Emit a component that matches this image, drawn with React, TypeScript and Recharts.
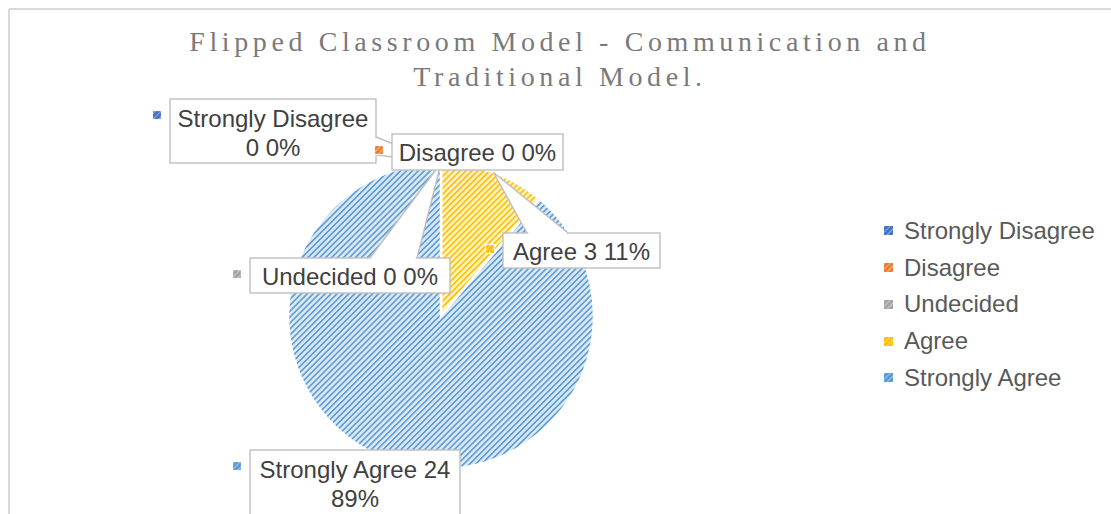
import React from 'react';
import { PieChart, Pie, Cell, Legend } from 'recharts';

const categories = ['Strongly Disagree', 'Disagree', 'Undecided', 'Agree', 'Strongly Agree'];
const counts = [0, 0, 0, 3, 24];
const baseColors = ['#4472C4', '#ED7D31', '#A5A5A5', '#FFC000', '#5B9BD5'];
const titleLines = ['Flipped Classroom Model - Communication and', 'Traditional Model.'];

const data = categories.map((name, i) => ({ name, value: counts[i] }));

const RAD = Math.PI / 180;
const LABEL_FONT = '"Liberation Sans", Arial, Helvetica, sans-serif';
const BORDER = '#bfbfbf';

type Callout = {
  x: number; y: number; w: number; h: number;
  breakAfter?: 'name' | 'value';
  base?: [number, number, number, number];
};

// layout of the data callouts (box position and wedge base)
const callouts: Callout[] = [
  { x: 170, y: 99, w: 206, h: 64, breakAfter: 'name', base: [376, 137, 376, 155] },
  { x: 392, y: 134, w: 171, h: 36 },
  { x: 250, y: 258, w: 200, h: 35, base: [370, 258, 417, 258] },
  { x: 503, y: 233, w: 157, h: 35, base: [527, 233, 568, 233] },
  { x: 250, y: 450, w: 210, h: 70, breakAfter: 'value' },
];

const apexOf = (p: any) => ({
  x: p.cx + p.outerRadius * Math.cos(-p.midAngle * RAD),
  y: p.cy + p.outerRadius * Math.sin(-p.midAngle * RAD),
});

const renderWedge = (p: any) => {
  const c = callouts[p.index];
  if (!c || !c.base) return <g key={`w-${p.index}`} />;
  const a = apexOf(p);
  const [x1, y1, x2, y2] = c.base;
  return (
    <polygon
      key={`w-${p.index}`}
      points={`${x1},${y1} ${a.x},${a.y} ${x2},${y2}`}
      fill="#ffffff"
      stroke={BORDER}
      strokeWidth={1.4}
      strokeLinejoin="miter"
    />
  );
};

const KeySquare = ({ x, y, i }: { x: number; y: number; i: number }) => (
  <g>
    <rect x={x} y={y} width={9} height={9} fill={baseColors[i]} stroke="#ffffff" strokeWidth={1.2} />
    <rect x={x} y={y} width={9} height={9} fill={`url(#key-${i})`} />
  </g>
);

const renderBox = (p: any) => {
  const c = callouts[p.index];
  if (!c) return <g key={`b-${p.index}`} />;
  const pct = `${Math.round((p.percent || 0) * 100)}%`;
  const name = p.name ?? categories[p.index];
  const value = p.value ?? counts[p.index];
  let lines: string[];
  if (c.breakAfter === 'name') lines = [name, `${value} ${pct}`];
  else if (c.breakAfter === 'value') lines = [`${name} ${value}`, pct];
  else lines = [`${name} ${value} ${pct}`];
  const cxText = c.x + c.w / 2;
  let gap: React.ReactNode = null;
  if (c.base) {
    const [x1, y1, x2, y2] = c.base;
    gap = (
      <line
        x1={x1 === x2 ? x1 : x1 + 1.2}
        y1={y1 === y2 ? y1 : y1 + 1.2}
        x2={x1 === x2 ? x2 : x2 - 1.2}
        y2={y1 === y2 ? y2 : y2 - 1.2}
        stroke="#ffffff"
        strokeWidth={2}
      />
    );
  }
  return (
    <g key={`b-${p.index}`}>
      <rect x={c.x} y={c.y} width={c.w} height={c.h} fill="#ffffff" stroke={BORDER} strokeWidth={1.4} />
      {gap}
      <KeySquare x={c.x - 17.5} y={c.y + 11.5} i={p.index} />
      {lines.map((t, i) => (
        <text
          key={i}
          x={cxText}
          y={c.y + (lines.length === 1 ? 27 : 28 + i * 29)}
          textAnchor="middle"
          fontFamily={LABEL_FONT}
          fontSize={24}
          fill="#404040"
        >
          {t}
        </text>
      ))}
    </g>
  );
};

const renderLegend = (props: any) => {
  const payload = (props.payload || []) as any[];
  const entries = categories
    .map((name) => payload.find((e: any) => e.value === name && e.color && e.color !== 'none'))
    .filter(Boolean);
  return (
    <div style={{ fontFamily: LABEL_FONT, fontSize: 24, color: '#595959' }}>
      {entries.map((e: any) => {
        const i = categories.indexOf(e.value);
        return (
          <div key={e.value} style={{ height: 36.7, display: 'flex', alignItems: 'center', whiteSpace: 'nowrap' }}>
            <svg width={9} height={9} style={{ marginRight: 11, flex: 'none' }}>
              <rect width={9} height={9} fill={baseColors[i]} />
              <rect width={9} height={9} fill={`url(#key-${i})`} />
            </svg>
            <span>{e.value}</span>
          </div>
        );
      })}
    </div>
  );
};

export default function App() {
  return (
    <div style={{ position: 'absolute', left: 0, top: 0, width: 1111, height: 514, overflow: 'hidden', background: '#ffffff' }}>
      <div style={{ position: 'absolute', left: 0, top: 0 }}>
        <PieChart width={1111} height={514} margin={{ top: 0, right: 0, bottom: 0, left: 0 }}>
          <defs>
            {baseColors.map((col, i) => (
              <pattern
                key={i}
                id={`pat-${i}`}
                width={4.2}
                height={4.2}
                patternUnits="userSpaceOnUse"
                patternTransform="rotate(45)"
              >
                <rect width={4.2} height={4.2} fill="#ffffff" />
                <rect width={4.2} height={4.2} fill={col} opacity={0.22} />
                <rect width={1.6} height={4.2} fill={col} />
              </pattern>
            ))}
            {baseColors.map((col, i) => (
              <pattern
                key={`k${i}`}
                id={`key-${i}`}
                width={4}
                height={4}
                patternUnits="userSpaceOnUse"
                patternTransform="rotate(45)"
              >
                <rect width={1} height={4} fill="#ffffff" opacity={0.4} />
              </pattern>
            ))}
          </defs>
          <Pie
            data={data}
            dataKey="value"
            nameKey="name"
            cx={441}
            cy={316}
            outerRadius={153}
            startAngle={90}
            endAngle={-270}
            stroke="#ffffff"
            strokeWidth={2.5}
            isAnimationActive={false}
            labelLine={false}
            label={renderWedge}
          >
            {data.map((_, i) => (
              <Cell key={i} fill={`url(#pat-${i})`} />
            ))}
          </Pie>
          <Pie
            data={data}
            dataKey="value"
            nameKey="name"
            cx={441}
            cy={316}
            outerRadius={153}
            startAngle={90}
            endAngle={-270}
            fill="none"
            stroke="none"
            legendType="none"
            isAnimationActive={false}
            labelLine={false}
            label={renderBox}
          >
            {data.map((_, i) => (
              <Cell key={i} fill="none" stroke="none" />
            ))}
          </Pie>
          <Legend
            layout="vertical"
            align="right"
            verticalAlign="middle"
            content={renderLegend}
            wrapperStyle={{ position: 'absolute', left: 884, top: 212.6, width: 227 }}
          />
        </PieChart>
      </div>
      <svg
        width={1111}
        height={514}
        style={{ position: 'absolute', left: 0, top: 0, pointerEvents: 'none' }}
      >
        <line x1={9} y1={9} x2={1111} y2={9} stroke="#d9d9d9" strokeWidth={2} />
        <line x1={9} y1={9} x2={9} y2={514} stroke="#d9d9d9" strokeWidth={2} />
        {titleLines.map((t, i) => (
          <text
            key={i}
            x={560}
            y={50.5 + i * 35.5}
            textAnchor="middle"
            fontFamily='"Liberation Serif", "Times New Roman", serif'
            fontSize={28}
            letterSpacing={4.6}
            fill="#7a7a7a"
          >
            {t}
          </text>
        ))}
      </svg>
    </div>
  );
}
